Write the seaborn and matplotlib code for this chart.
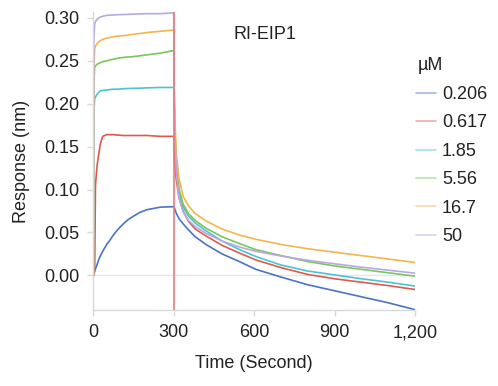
import numpy as np
import pandas as pd
import matplotlib
matplotlib.use("Agg")
import matplotlib.pyplot as plt
from matplotlib.lines import Line2D
from matplotlib.ticker import MultipleLocator, FuncFormatter
import seaborn as sns

# ---------------- data ----------------
concentrations = ["0.206", "0.617", "1.85", "5.56", "16.7", "50"]

t_assoc = [0, 2, 5, 8, 14, 20, 26, 35, 50, 62, 75, 90, 112, 130, 150, 175, 200, 250, 300]
assoc_0206 = [0.000, 0.002, 0.005, 0.0075, 0.0125, 0.018, 0.0225, 0.028, 0.036, 0.041, 0.047, 0.053, 0.060, 0.065, 0.069, 0.0735, 0.0765, 0.0795, 0.080]
assoc_0617 = [0.000, 0.000, 0.005, 0.105, 0.128, 0.141, 0.153, 0.162, 0.164, 0.164, 0.164, 0.1635, 0.163, 0.163, 0.163, 0.163, 0.163, 0.162, 0.162]
assoc_185 = [0.000, 0.190, 0.2054, 0.208, 0.211, 0.213, 0.215, 0.2155, 0.216, 0.2165, 0.217, 0.217, 0.2175, 0.2178, 0.218, 0.2182, 0.2185, 0.219, 0.219]
assoc_556 = [0.000, 0.225, 0.2424, 0.244, 0.246, 0.247, 0.248, 0.249, 0.250, 0.251, 0.252, 0.253, 0.254, 0.2545, 0.255, 0.256, 0.257, 0.259, 0.262]
assoc_167 = [0.000, 0.245, 0.264, 0.267, 0.270, 0.272, 0.2735, 0.275, 0.2765, 0.2772, 0.278, 0.2788, 0.2795, 0.280, 0.281, 0.282, 0.283, 0.2845, 0.286]
assoc_50 = [0.000, 0.275, 0.293, 0.296, 0.298, 0.300, 0.301, 0.302, 0.303, 0.3032, 0.3035, 0.3038, 0.304, 0.3042, 0.3045, 0.3048, 0.305, 0.305, 0.306]

t_dissoc = [302, 305, 310, 320, 335, 355, 380, 420, 480, 545, 606, 700, 800, 900, 1000, 1100, 1200]
dissoc_0206 = [0.079, 0.076, 0.072, 0.066, 0.060, 0.053, 0.045, 0.036, 0.025, 0.016, 0.007, -0.002, -0.011, -0.018, -0.025, -0.032, -0.040]
dissoc_0617 = [0.140, 0.125, 0.110, 0.090, 0.075, 0.063, 0.054, 0.046, 0.035, 0.026, 0.018, 0.009, 0.001, -0.004, -0.008, -0.012, -0.0165]
dissoc_185 = [0.195, 0.160, 0.125, 0.097, 0.080, 0.069, 0.061, 0.052, 0.040, 0.030, 0.022, 0.012, 0.005, 0.0005, -0.004, -0.008, -0.0125]
dissoc_556 = [0.205, 0.165, 0.128, 0.100, 0.083, 0.072, 0.064, 0.055, 0.045, 0.037, 0.030, 0.023, 0.016, 0.011, 0.007, 0.003, -0.001]
dissoc_167 = [0.210, 0.175, 0.140, 0.112, 0.092, 0.081, 0.072, 0.0634, 0.054, 0.047, 0.042, 0.036, 0.031, 0.027, 0.023, 0.019, 0.015]
dissoc_50 = [0.200, 0.160, 0.118, 0.090, 0.074, 0.064, 0.057, 0.049, 0.040, 0.033, 0.028, 0.0225, 0.0175, 0.0135, 0.0095, 0.006, 0.0025]

x_ticks = [0, 300, 600, 900, 1200]
y_ticks = [0.00, 0.05, 0.10, 0.15, 0.20, 0.25, 0.30]
switch_time = 300

# ---------------- build long table ----------------
assoc = [assoc_0206, assoc_0617, assoc_185, assoc_556, assoc_167, assoc_50]
dissoc = [dissoc_0206, dissoc_0617, dissoc_185, dissoc_556, dissoc_167, dissoc_50]
rows = []
for c, a, d in zip(concentrations, assoc, dissoc):
    for t, v in zip(t_assoc, a):
        rows.append((c, t, v))
    for t, v in zip(t_dissoc, d):
        rows.append((c, t, v))
df = pd.DataFrame(rows, columns=["conc", "time", "response"])

colors = ["#4a74c6", "#de5a4c", "#4cc3d3", "#78c75a", "#f2b64c", "#b9a8e0"]
palette = dict(zip(concentrations, colors))

# ---------------- plot ----------------
sns.set_theme(style="white")
plt.rcParams["font.family"] = ["Liberation Sans", "DejaVu Sans"]

fig = plt.figure(figsize=(4.98, 3.86), dpi=100)
ax = fig.add_axes([0.1874, 0.1956, 0.6459, 0.7734])

sns.lineplot(data=df, x="time", y="response", hue="conc", hue_order=concentrations,
             palette=palette, estimator=None, sort=False, legend=False,
             linewidth=1.2, ax=ax)

ax.axvline(switch_time, color="#ea7a82", linewidth=1.2, zorder=5)
ax.axhline(0, color="#e6e6e6", linewidth=1.0, zorder=0)

ax.set_xlim(0, 1200)
ax.set_ylim(-0.041, 0.307)
ax.set_xticks(x_ticks)
ax.xaxis.set_minor_locator(MultipleLocator(100))
ax.set_yticks(y_ticks)
ax.xaxis.set_major_formatter(FuncFormatter(lambda v, p: f"{int(v):,}"))
ax.yaxis.set_major_formatter(FuncFormatter(lambda v, p: f"{v:.2f}"))

for s in ["top", "right"]:
    ax.spines[s].set_visible(False)
for s in ["left", "bottom"]:
    ax.spines[s].set_color("#d9d9d9")
    ax.spines[s].set_linewidth(1.0)

ax.tick_params(axis="both", which="major", length=4, width=1, color="#d9d9d9",
               labelsize=13, labelcolor="#222222", pad=6, direction="out")
ax.tick_params(axis="x", which="minor", length=3, width=1, color="#d9d9d9", direction="out")
ax.tick_params(left=True, bottom=True)

ax.set_xlabel("Time (Second)", fontsize=13, color="#222222", labelpad=10)
ax.set_ylabel("Response (nm)", fontsize=13, color="#222222", labelpad=10)

ax.text(0.535, 0.923, "RI-EIP1", transform=ax.transAxes, fontsize=13,
        color="#222222", ha="center", va="center")

fig.text(0.839, 0.8316, "µM", fontsize=13, color="#222222", ha="left", va="center")
handles = [Line2D([0], [0], color=c, lw=1.2, alpha=0.5) for c in colors]
leg = fig.legend(handles, concentrations, loc="upper left",
                 bbox_to_anchor=(0.835, 0.777), frameon=False, fontsize=13,
                 handlelength=1.1, handletextpad=0.35,
                 labelspacing=0.63, borderaxespad=0, borderpad=0)
for txt in leg.get_texts():
    txt.set_color("#222222")

fig.savefig("out.png", dpi=100)
